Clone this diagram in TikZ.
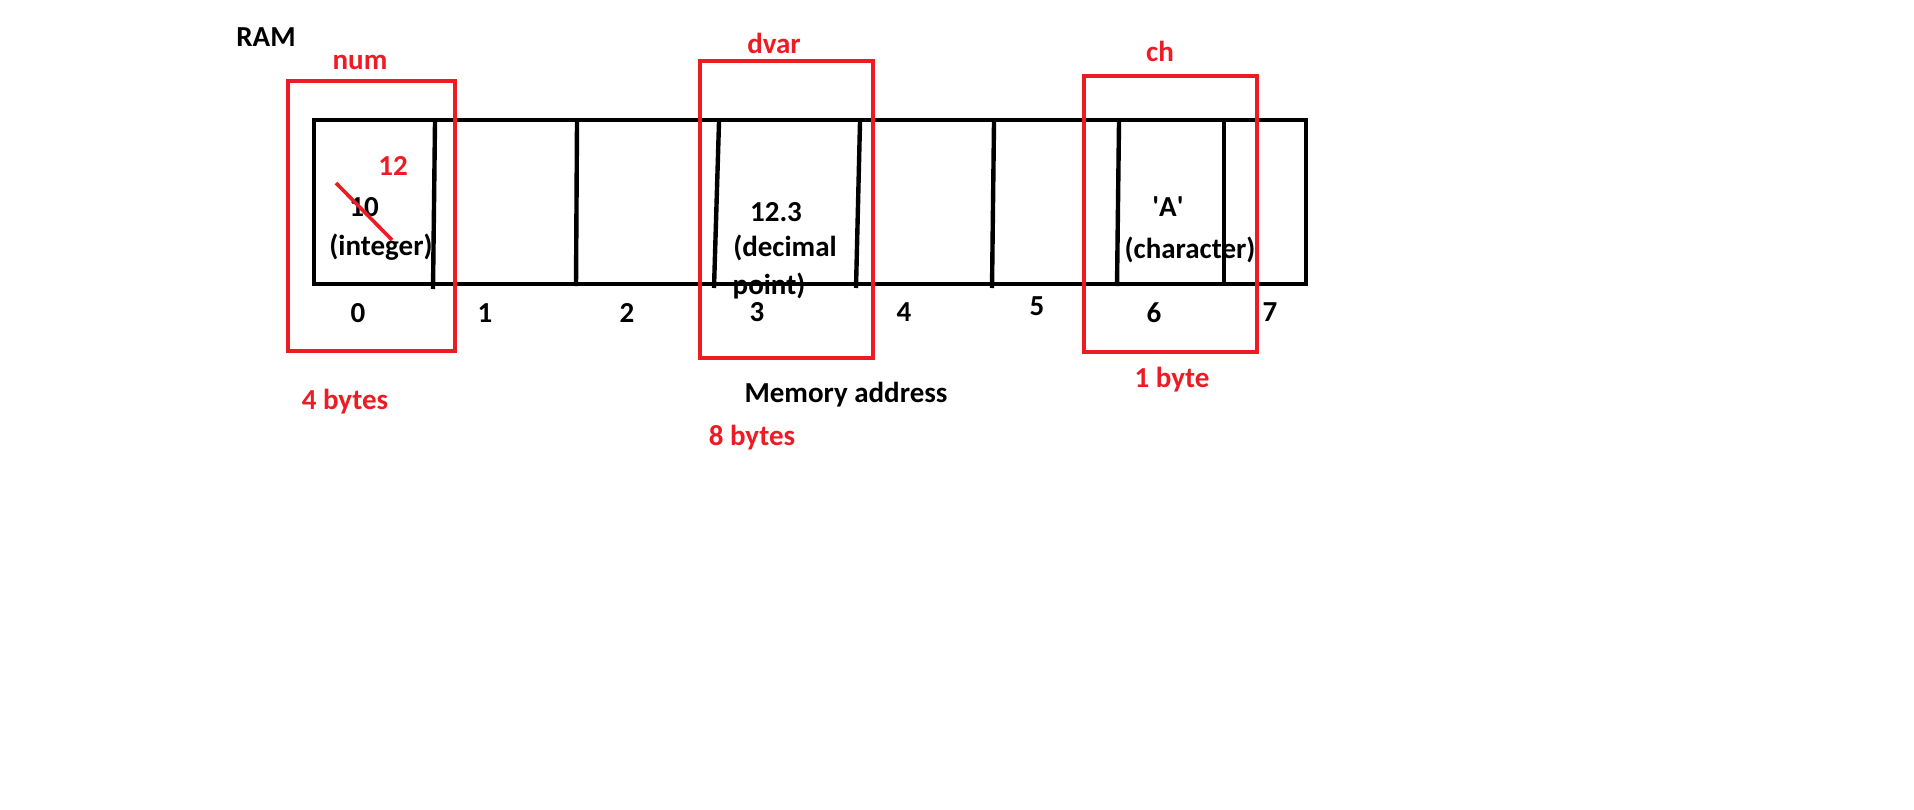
\documentclass[tikz,border=0pt]{standalone}
\usepackage{fontspec}
\setmainfont{Carlito}
\usetikzlibrary{positioning}
\definecolor{paintred}{RGB}{237,28,36}
\tikzset{
    cell/.style={black, line width=2.2pt},
    varbox/.style={paintred, line width=2.2pt},
    txt/.style={font=\fontsize{14.5}{17}\selectfont\bfseries, inner sep=0pt, text=black},
    redtxt/.style={txt, text=paintred}
}

\begin{document}
\begin{tikzpicture}[x=0.5pt, y=-0.5pt]
          \useasboundingbox (0,0) rectangle (1914,809);
          % memory row
          \draw[cell] (314,120) rectangle (1306,284);
          \draw[cell] (435,122) -- (433,289);
          \draw[cell] (577,122) -- (576,286);
          \draw[cell] (719,122) -- (714,288);
          \draw[cell] (860,122) -- (856,288);
          \draw[cell] (994,122) -- (992,288);
          \draw[cell] (1119,122) -- (1117,286);
          \draw[cell] (1224,122) -- (1224,286);
          \node[txt] (ram) at (266,37) {RAM};
          % addresses
          \foreach \n/\x/\y in {0/358/313, 1/485/313, 2/627/313, 3/757/312, 4/904/312, 5/1037/306, 6/1154/313, 7/1270/312}
              \node[txt] (addr\n) at (\x,\y) {\n};
          \node[txt] (memaddr) at (846,395) {Memory address};
          % values
          \node[txt] (numval) at (364,207) {10};
          \node[txt] (numtype) at (381,247) {(integer)};
          \node[redtxt] (newval) at (393,166) {12};
          \draw[paintred, line width=1.8pt] (336,183) -- (392,240);
          \node[txt] (dval) at (776,212) {12.3};
          \node[txt] (dtype) at (785,248) {(decimal};
          \node[txt] (dtype2) at (769,286) {point)};
          \node[txt] (chval) at (1168,207) {\textquotesingle A\textquotesingle};
          \node[txt] (chtype) at (1190,250) {(character)};
          % variables
          \draw[varbox] (288,81) rectangle (455,351);
          \draw[varbox] (700,61) rectangle (873,358);
          \draw[varbox] (1084,76) rectangle (1257,352);
          \node[redtxt] (num) at (360,62) {num};
          \node[redtxt] (dvar) at (774,43) {dvar};
          \node[redtxt] (ch) at (1160,51) {ch};
          \node[redtxt] (numsize) at (345,402) {4 bytes};
          \node[redtxt] (dvarsize) at (752,438) {8 bytes};
          \node[redtxt] (chsize) at (1172,380) {1 byte};
\end{tikzpicture}
\end{document}
